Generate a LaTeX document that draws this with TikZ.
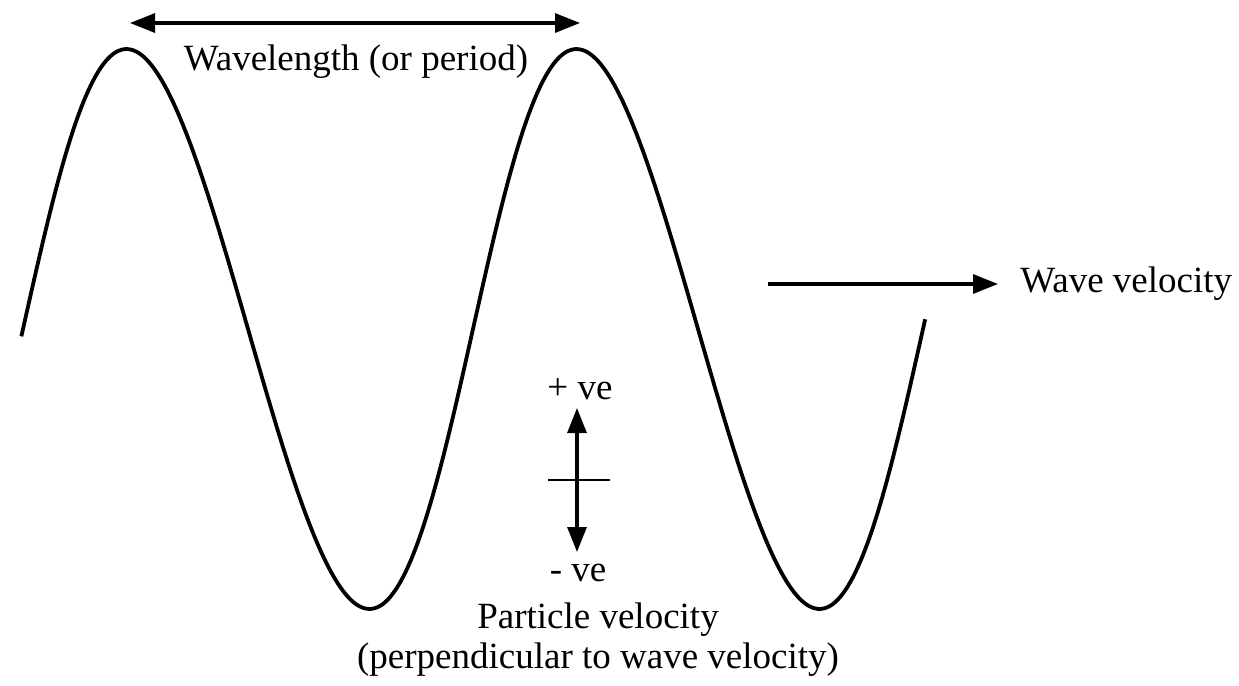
\documentclass[tikz,border=0pt]{standalone}
\usepackage{fontspec}
\setmainfont{Liberation Serif}
\usetikzlibrary{arrows.meta,positioning}

\begin{document}
\begin{tikzpicture}[
  x=0.5pt, y=-0.5pt,
  every node/.style={font=\fontsize{18.5}{21}\selectfont, inner sep=0pt},
  wave/.style={line width=1.9pt, line join=round},
  arr/.style={-{Triangle[length=12.5pt, width=9.5pt]}, line width=1.6pt},
  darr/.style={{Triangle[length=12.5pt, width=9.5pt]}-{Triangle[length=12.5pt, width=9.5pt]},
               line width=1.6pt},
  tick/.style={line width=1.3pt},
]
\useasboundingbox (0,0) rectangle (1239,686);

%% The wave
\draw[wave] plot[domain=-1.5:722, samples=240, variable=\t, smooth]
  ({14+1.25*\t+9*(1-sin(\t))}, {329-280*sin(\t)});

%% Wavelength
\coordinate (wl-l) at (130,23);
\coordinate (wl-r) at (580,23);
\draw[darr] (wl-l) -- (wl-r);
\node (wl) at (356,62) {Wavelength (or period)};

%% Wave velocity
\coordinate (wv-s) at (768,284);
\coordinate (wv-e) at (998,284);
\draw[arr] (wv-s) -- (wv-e);
\node[right=11pt of wv-e] (wv) {Wave velocity};

%% Particle velocity
\coordinate (pv-c) at (577,480);
\coordinate (pv-t) at (577,408);
\coordinate (pv-b) at (577,552);
\coordinate (tk-l) at (548,480);
\coordinate (tk-r) at (610,480);
\draw[arr] (pv-c) -- (pv-t);
\draw[arr] (pv-c) -- (pv-b);
\draw[tick] (tk-l) -- (tk-r);
\node (plus) at (580,389) {+ ve};
\node (minus) at (578,573) {- ve};
\node (pv1) at (598,620) {Particle velocity};
\node (pv2) at (598,660) {(perpendicular to wave velocity)};

\end{tikzpicture}
\end{document}
